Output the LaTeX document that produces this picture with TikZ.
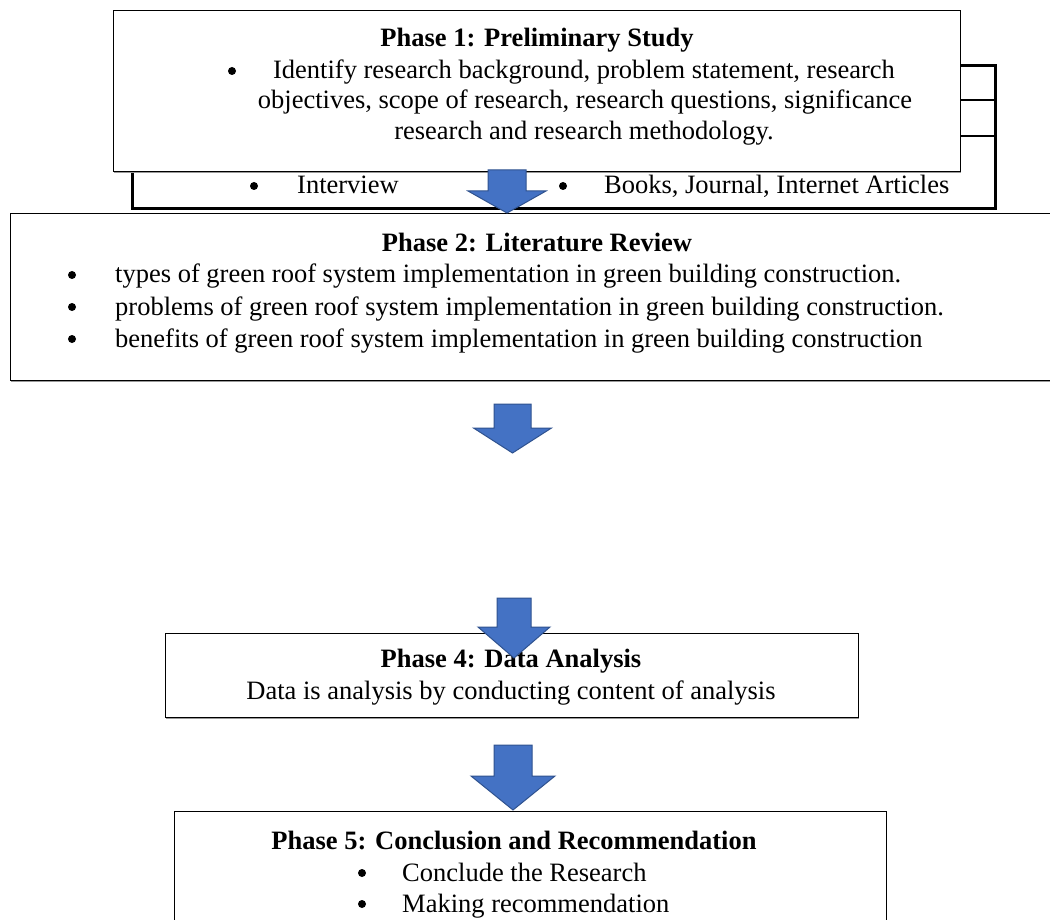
\documentclass[tikz,border=0pt]{standalone}
\usepackage{fontspec}
\setmainfont{Liberation Serif}
\usetikzlibrary{shadows}
\definecolor{arrfill}{HTML}{4472C4}
\definecolor{arrline}{HTML}{2F528F}
\newcommand{\DownArr}[7]{% name, cx, top, headstart, tip, shaft half, head half
  \draw[blockarr] (#2-#6,#3) coordinate (#1top) -- (#2+#6,#3) -- (#2+#6,#4) -- (#2+#7,#4)
    -- (#2,#5) coordinate (#1tip) -- (#2-#7,#4) -- (#2-#6,#4) -- cycle;}
\begin{document}
\begin{tikzpicture}[x=1pt,y=-1pt,
  box/.style={draw=black, line width=1.3pt, fill=white, inner sep=0pt, anchor=north west,
    drop shadow={shadow xshift=0.6pt, shadow yshift=-1.6pt, fill=gray!80, opacity=1}},
  backbox/.style={draw=black, line width=2.6pt, fill=white, inner sep=0pt, anchor=north west},
  blockarr/.style={fill=arrfill, draw=arrline, line width=1pt, line join=miter},
  txt/.style={inner sep=0pt, anchor=base, font=\fontsize{26.5}{32}\selectfont},
  ttl/.style={txt, font=\fontsize{26.5}{32}\selectfont\bfseries},
  lt/.style={txt, anchor=base west},
  bul/.style={circle, fill=black, inner sep=0pt, minimum size=8pt}]
\useasboundingbox (0,0) rectangle (1050,920);
\clip (0,0) rectangle (1050,920);
\fill[white] (0,0) rectangle (1050,920);

% back box (Phase 3 data collection, mostly hidden)
\node[backbox, minimum width=863pt, minimum height=143pt] (p3) at (131,64) {};
\draw[line width=2.6pt] (p3.west |- 0,100) coordinate (r1) -- (p3.east |- 0,100) coordinate (r1e);
\draw[line width=1.6pt] (p3.west |- 0,136) coordinate (r2) -- (p3.east |- 0,136) coordinate (r2e);
\node[bul] (b31) at (254,186) {};
\node[lt] (t31) at (297,194) {Interview};
\node[bul] (b32) at (563,186) {};
\node[lt] (t32) at (604,194) {Books, Journal, Internet Articles};

% Phase 1
\node[box, minimum width=847pt, minimum height=161pt] (p1) at (113,10) {};
\node[ttl] (t1) at (537,47) {Phase 1: Preliminary Study};
\node[bul] (b1) at (232,71) {};
\node[txt] (l11) at (584,79) {Identify research background, problem statement, research};
\node[txt] (l12) at (585,109) {objectives, scope of research, research questions, significance};
\node[txt] (l13) at (584,140) {research and research methodology.};

% Phase 2
\node[box, minimum width=1100pt, minimum height=167pt] (p2) at (10,213) {};
\node[ttl] (t2) at (537,252) {Phase 2: Literature Review};
\node[bul] (b21) at (72,275) {};
\node[lt] (l21) at (115,283) {types of green roof system implementation in green building construction.};
\node[bul] (b22) at (72,307) {};
\node[lt] (l22) at (115,315) {problems of green roof system implementation in green building construction.};
\node[bul] (b23) at (72,339) {};
\node[lt] (l23) at (115,347) {benefits of green roof system implementation in green building construction};

% arrows 1 and 2
\DownArr{a1}{507}{170}{191}{213}{19}{39}
\DownArr{a2}{512.5}{404}{428}{453}{18.5}{39}

% Phase 4
\node[box, minimum width=693pt, minimum height=84pt] (p4) at (165,633) {};
\node[ttl] (t4) at (511,667) {Phase 4: Data Analysis};
\node[txt] (l41) at (511,699) {Data is analysis by conducting content of analysis};
\DownArr{a3}{514}{598}{627}{658}{17}{36}

% Phase 5
\DownArr{a4}{513}{745}{776}{810}{19}{42}
\node[box, minimum width=712pt, minimum height=200pt] (p5) at (174,811) {};
\node[ttl] (t5) at (514,849) {Phase 5: Conclusion and Recommendation};
\node[bul] (b51) at (362,873) {};
\node[lt] (l51) at (402,881) {Conclude the Research};
\node[bul] (b52) at (362,904) {};
\node[lt] (l52) at (402,912) {Making recommendation};
\end{tikzpicture}
\end{document}
